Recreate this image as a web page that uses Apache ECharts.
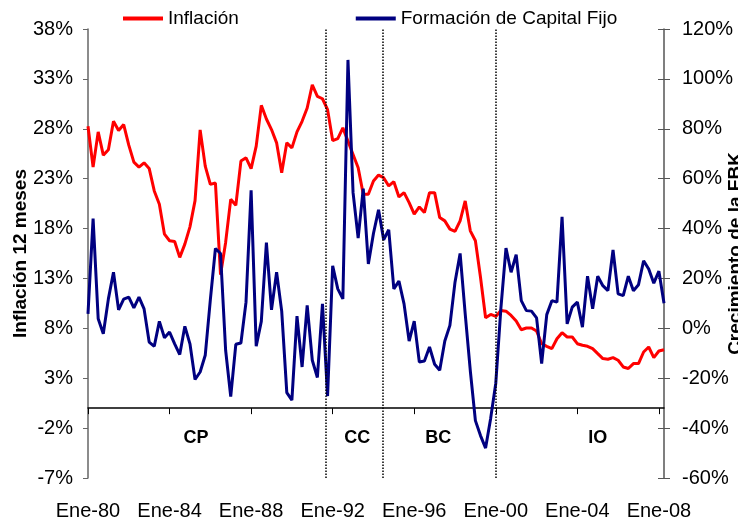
<!DOCTYPE html>
<html>
<head>
<meta charset="utf-8">
<script src="https://cdn.jsdelivr.net/npm/echarts@6/dist/echarts.min.js"></script>
<style>
html,body{margin:0;padding:0;background:#fff;}
#chart{width:738px;height:527px;}
</style>
</head>
<body>
<div id="chart"></div>
<script>
// trimestral, Ene-80 .. Abr-08
var meses = ['Ene', 'Abr', 'Jul', 'Oct'];
var categorias = [];
for (var a = 1980; a <= 2008; a++) {
    for (var q = 0; q < 4; q++) {
        if (a == 2008 && q > 1) break;
        categorias.push(meses[q] + '-' + String(a).slice(2));
    }
}

var inflacion = [
    28.25, 24.16, 27.69, 25.36, 25.89, 28.75, 27.82, 28.42, 26.36, 24.66,
    24.16, 24.59, 24.03, 21.77, 20.44, 17.44, 16.78, 16.71, 15.11, 16.44,
    18.17, 20.8, 27.89, 24.26, 22.43, 22.56, 13.38, 16.61, 20.93, 20.33,
    24.76, 25.09, 24.0, 26.26, 30.35, 28.98, 27.92, 26.59, 23.6, 26.59,
    26.09, 27.69, 28.75, 30.08, 32.41, 31.25, 31.01, 29.92, 26.82, 27.02,
    28.09, 26.76, 25.43, 24.09, 21.43, 21.43, 22.76, 23.36, 23.1, 22.27,
    22.7, 21.17, 21.6, 20.6, 19.44, 20.17, 19.6, 21.6, 21.6, 19.1,
    18.77, 17.94, 17.71, 18.77, 20.77, 17.77, 16.78, 13.12, 9.06, 9.39,
    9.19, 9.79, 9.72, 9.29, 8.73, 7.86, 8.03, 8.03, 7.73, 6.46,
    6.2, 5.96, 6.96, 7.56, 7.13, 7.13, 6.46, 6.3, 6.2, 5.96,
    5.46, 4.97, 4.9, 5.07, 4.8, 4.13, 3.97, 4.47, 4.47, 5.63,
    6.13, 5.07, 5.73, 5.86
];

var fbk = [
    5.8, 44.0, 3.8, -2.2, 11.8, 22.5, 7.4, 11.7, 12.5, 8.2,
    12.5, 7.8, -5.5, -7.2, 2.8, -3.8, -1.5, -6.2, -10.5, 0.8,
    -6.2, -20.5, -17.5, -10.8, 11.4, 32.0, 30.0, -8.8, -27.4, -6.4,
    -5.9, 10.5, 55.3, -7.2, 2.8, 34.4, 7.4, 22.5, 6.9, -25.8,
    -28.8, 4.9, -15.5, 9.2, -12.8, -19.7, 9.8, -27.2, 25.1, 15.8,
    11.8, 107.6, 54.4, 36.2, 56.0, 25.8, 38.0, 47.5, 35.5, 39.5,
    15.8, 18.9, 9.8, -5.1, 2.9, -13.5, -13.1, -7.5, -14.4, -16.8,
    -5.1, 1.2, 18.5, 30.0, 5.8, -17, -37, -43, -48, -36,
    -22, 8, 32.2, 22.5, 29.5, 11.1, 7.1, 6.9, 4.2, -14.1,
    5.5, 11.1, 10.5, 44.7, 1.8, 8.5, 10.5, 0.5, 20.9, 7.8,
    20.9, 17.1, 15.1, 31.4, 13.8, 13.1, 20.9, 15.1, 17.5, 27.1,
    23.8, 18.1, 22.9, 10.1
];

// periodos (en posicion de trimestre)
var periodos = ['CP', 'CC', 'BC', 'IO'];
var periodosCentro = [21.2, 52.8, 68.7, 100];
var cortes = [46.7, 57.9, 79.9];

var fuente = "'Liberation Sans', Arial, sans-serif";

var chart = echarts.init(document.getElementById('chart'));
var option = {
    animation: false,
    textStyle: {fontFamily: fuente},
    legend: {
        left: 118,
        top: 4,
        icon: 'rect',
        itemWidth: 40,
        itemHeight: 4,
        itemGap: 117,
        textStyle: {fontSize: 19, color: '#000', fontFamily: fuente},
        data: ['Inflación', 'Formación de Capital Fijo']
    },
    grid: {left: 88, right: 74, top: 29, bottom: 49, containLabel: false, outerBoundsMode: 'none'},
    xAxis: [
        {
            type: 'category',
            data: categorias,
            boundaryGap: false,
            axisLine: {show: true, onZero: true, onZeroAxisIndex: 0, lineStyle: {color: '#000', width: 1.5}},
            axisTick: {show: true, interval: 15, length: 6, lineStyle: {color: '#000'}},
            axisLabel: {show: false},
            splitLine: {show: false}
        },
        {
            type: 'category',
            data: categorias,
            boundaryGap: false,
            position: 'bottom',
            axisLine: {show: false, onZero: false},
            axisTick: {show: false},
            axisLabel: {interval: 15, margin: 23, fontSize: 20, color: '#000', fontFamily: fuente},
            splitLine: {show: false}
        },
        {
            type: 'value',
            min: 0,
            max: categorias.length - 1,
            show: false
        }
    ],
    yAxis: [
        {
            type: 'value',
            position: 'left',
            min: -7,
            max: 38,
            interval: 5,
            name: 'Inflación 12 meses',
            nameLocation: 'middle',
            nameGap: 58,
            nameMoveOverlap: false,
            nameTextStyle: {fontSize: 19, fontWeight: 'bold', color: '#000', fontFamily: fuente},
            axisLine: {show: true, lineStyle: {color: '#666', width: 1.5}},
            axisTick: {show: true, length: 5, lineStyle: {color: '#666'}},
            axisLabel: {formatter: '{value}%', fontSize: 20, color: '#000', margin: 15, fontFamily: fuente},
            splitLine: {show: false}
        },
        {
            type: 'value',
            position: 'right',
            min: -60,
            max: 120,
            interval: 20,
            name: 'Crecimiento de la FBK',
            nameLocation: 'middle',
            nameGap: 62,
            nameMoveOverlap: false,
            nameTextStyle: {fontSize: 19, fontWeight: 'bold', color: '#000', fontFamily: fuente},
            axisLine: {show: true, lineStyle: {color: '#555', width: 1.5}},
            axisTick: {show: true, length: 6, lineStyle: {color: '#555'}},
            axisLabel: {formatter: '{value}%', fontSize: 20, color: '#000', margin: 18, fontFamily: fuente},
            splitLine: {show: false}
        },
        {
            // ticks hacia adentro del eje derecho
            type: 'value',
            position: 'right',
            min: -60,
            max: 120,
            interval: 20,
            axisLine: {show: false},
            axisTick: {show: true, inside: true, length: 6, lineStyle: {color: '#555'}},
            axisLabel: {show: false},
            splitLine: {show: false}
        }
    ],
    series: [
        {
            name: 'Inflación',
            type: 'line',
            xAxisIndex: 0,
            yAxisIndex: 0,
            data: inflacion,
            showSymbol: false,
            color: '#ff0000',
            lineStyle: {width: 3, color: '#ff0000'}
        },
        {
            name: 'Formación de Capital Fijo',
            type: 'line',
            xAxisIndex: 0,
            yAxisIndex: 1,
            data: fbk,
            showSymbol: false,
            color: '#000080',
            lineStyle: {width: 3, color: '#000080'}
        },
        {
            name: 'periodos',
            type: 'scatter',
            xAxisIndex: 2,
            yAxisIndex: 0,
            data: [],
            silent: true,
            markLine: {
                silent: true,
                symbol: 'none',
                label: {show: false},
                lineStyle: {type: 'dotted', color: '#000', width: 1.5},
                data: cortes.map(function (c) { return {xAxis: c}; })
            },
            markPoint: {
                silent: true,
                symbolSize: 0,
                label: {show: true, position: 'inside', fontSize: 18, fontWeight: 'bold', color: '#000', fontFamily: fuente, formatter: '{b}'},
                data: periodos.map(function (p, k) {
                    return {name: p, coord: [periodosCentro[k], -3.0]};
                })
            }
        }
    ]
};
chart.setOption(option);
</script>
</body>
</html>
